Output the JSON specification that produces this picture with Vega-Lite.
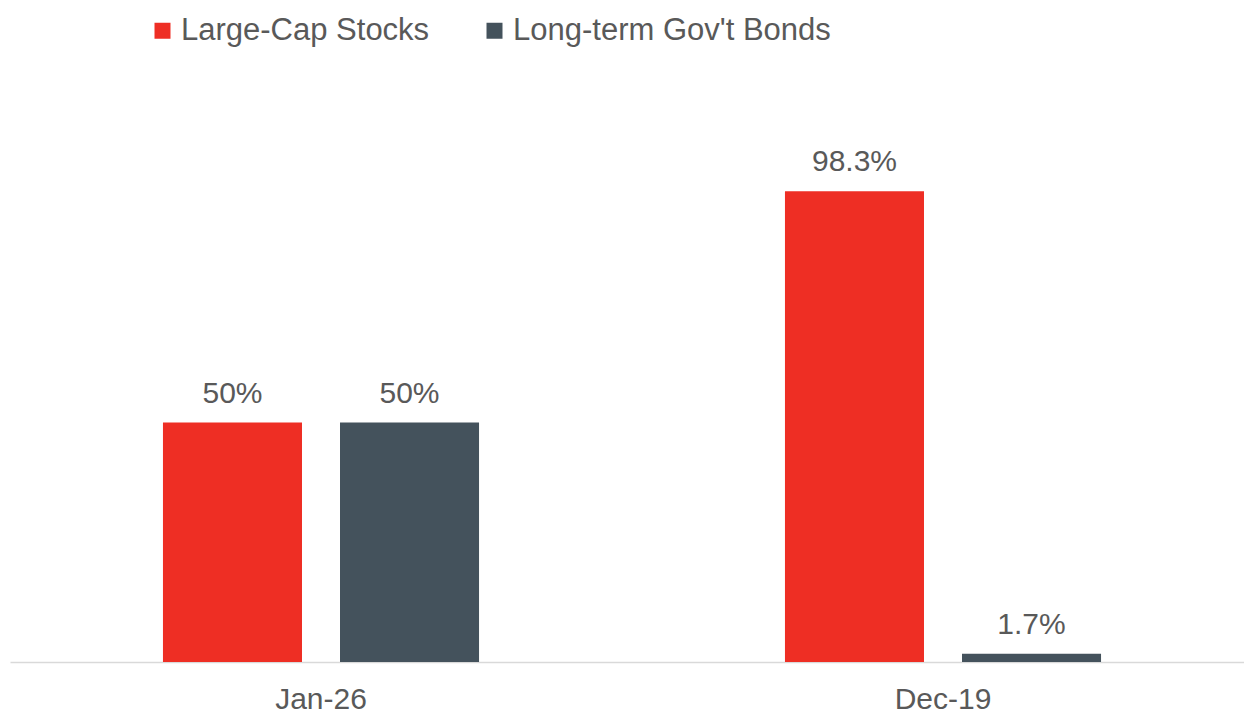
{
  "$schema": "https://vega.github.io/schema/vega-lite/v6.json",
  "autosize": "none",
  "width": 1234,
  "height": 479,
  "padding": {"left": 10, "top": 183, "right": 0, "bottom": 53},
  "background": "white",
  "config": {
    "view": {"stroke": null},
    "font": "Liberation Sans"
  },
  "data": {
    "values": [
      {"date": "Jan-26", "series": "Large-Cap Stocks", "value": 50, "label": "50%"},
      {"date": "Jan-26", "series": "Long-term Gov't Bonds", "value": 50, "label": "50%"},
      {"date": "Dec-19", "series": "Large-Cap Stocks", "value": 98.3, "label": "98.3%"},
      {"date": "Dec-19", "series": "Long-term Gov't Bonds", "value": 1.7, "label": "1.7%"}
    ]
  },
  "encoding": {
    "x": {
      "field": "date",
      "type": "nominal",
      "sort": null,
      "scale": {"range": [0, 1244], "paddingInner": 0, "paddingOuter": 0},
      "axis": {
        "title": null,
        "labelAngle": 0,
        "ticks": false,
        "domainColor": "#d9d9d9",
        "domainWidth": 1.5,
        "labelFontSize": 30,
        "labelColor": "#595959",
        "labelPadding": 22,
        "labelFont": "Liberation Sans"
      }
    },
    "xOffset": {
      "field": "series",
      "type": "nominal",
      "sort": ["Large-Cap Stocks", "Long-term Gov't Bonds"],
      "scale": {"paddingInner": 0.2147, "paddingOuter": 0.864}
    },
    "y": {
      "field": "value",
      "type": "quantitative",
      "scale": {"domain": [0, 100]},
      "axis": null
    }
  },
  "layer": [
    {
      "mark": {"type": "bar"},
      "encoding": {
        "color": {
          "field": "series",
          "type": "nominal",
          "sort": ["Large-Cap Stocks", "Long-term Gov't Bonds"],
          "scale": {"domain": ["Large-Cap Stocks", "Long-term Gov't Bonds"], "range": ["#EE2E24", "#44525C"]},
          "legend": {
            "title": null,
            "orient": "none",
            "direction": "horizontal",
            "legendX": 137,
            "legendY": -168,
            "symbolType": "square",
            "symbolSize": 256,
            "symbolStrokeWidth": 0,
            "labelFontSize": 31,
            "labelColor": "#595959",
            "labelOffset": 3,
            "columnPadding": 49,
            "labelLimit": 0,
            "labelFont": "Liberation Sans"
          }
        }
      }
    },
    {
      "mark": {
        "type": "text",
        "baseline": "alphabetic",
        "dy": -20,
        "fontSize": 30,
        "color": "#595959",
        "font": "Liberation Sans"
      },
      "encoding": {
        "text": {"field": "label"}
      }
    }
  ]
}
